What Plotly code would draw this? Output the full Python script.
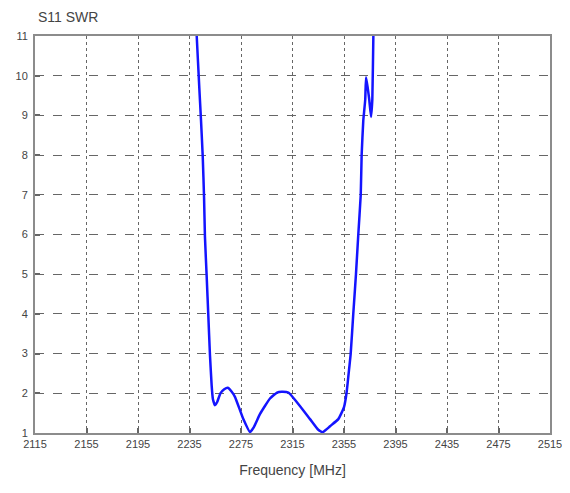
import plotly.graph_objects as go

freq_mhz = [2240.1, 2240.6, 2242.6, 2243.9, 2245.3, 2246.3, 2247.0, 2248.4, 2249.6, 2250.9,
            2252.2, 2253.2, 2254.8, 2256.5, 2259.0, 2262.0, 2264.7, 2267.5, 2270.3, 2276.8,
            2282.0, 2285.0, 2289.8, 2297.5, 2303.0, 2306.6, 2311.8, 2318.3, 2328.6, 2335.0,
            2338.4, 2341.0, 2344.1, 2350.6, 2353.0, 2355.0, 2357.1, 2359.1, 2360.2, 2362.2,
            2364.3, 2366.1, 2368.0, 2368.7, 2370.0, 2370.8, 2371.5, 2372.1, 2373.4, 2374.6,
            2376.0, 2377.0, 2377.8, 2378.5]
swr = [11.3, 11.0, 9.7, 8.9, 7.95, 6.94, 5.94, 4.9, 3.97, 2.96,
       2.2, 1.85, 1.70, 1.78, 2.0, 2.1, 2.14, 2.05, 1.91, 1.35,
       1.02, 1.15, 1.48, 1.87, 2.02, 2.04, 2.02, 1.78, 1.35, 1.08,
       1.02, 1.08, 1.17, 1.35, 1.5, 1.65, 2.04, 2.65, 3.0, 4.0,
       5.0, 6.0, 7.0, 8.0, 8.88, 9.15, 9.4, 9.96, 9.7, 9.4,
       8.96, 9.4, 11.0, 12.0]

x_ticks = [2115, 2155, 2195, 2235, 2275, 2315, 2355, 2395, 2435, 2475, 2515]
y_ticks = [1, 2, 3, 4, 5, 6, 7, 8, 9, 10, 11]

FONT = "Liberation Sans, Arial, sans-serif"

fig = go.Figure()
fig.add_trace(go.Scatter(
    x=freq_mhz, y=swr, mode="lines",
    line=dict(color="#1414ff", width=2.5, shape="spline", smoothing=0.4),
    cliponaxis=True, showlegend=False,
))

axis_common = dict(
    showline=True, mirror=True, linecolor="#8c8c8c", linewidth=2,
    ticks="inside", ticklen=5, tickcolor="#666666", tickwidth=1.5,
    showgrid=True, gridcolor="#666666", gridwidth=1,
    zeroline=False,
    tickfont=dict(family=FONT, size=11, color="#444444"),
)

fig.update_xaxes(
    range=[2115, 2515], tickvals=x_ticks, ticktext=[str(v) for v in x_ticks],
    griddash="dot",
    title=dict(text="Frequency [MHz]", font=dict(family=FONT, size=14, color="#444444"),
               standoff=16),
    **axis_common,
)
fig.update_yaxes(
    range=[1, 11], tickvals=y_ticks, ticktext=[str(v) for v in y_ticks],
    griddash="dash", ticklabelstandoff=3,
    **axis_common,
)

W, H = 562, 485
fig.update_layout(
    width=W, height=H,
    margin=dict(l=27, r=20, t=28, b=60, autoexpand=False),
    paper_bgcolor="white", plot_bgcolor="white",
    title=dict(text="S11 SWR", x=30 / W, xanchor="left", y=1 - 9 / H, yanchor="middle",
               font=dict(family=FONT, size=14, color="#444444")),
)

fig.write_html("out.html")
